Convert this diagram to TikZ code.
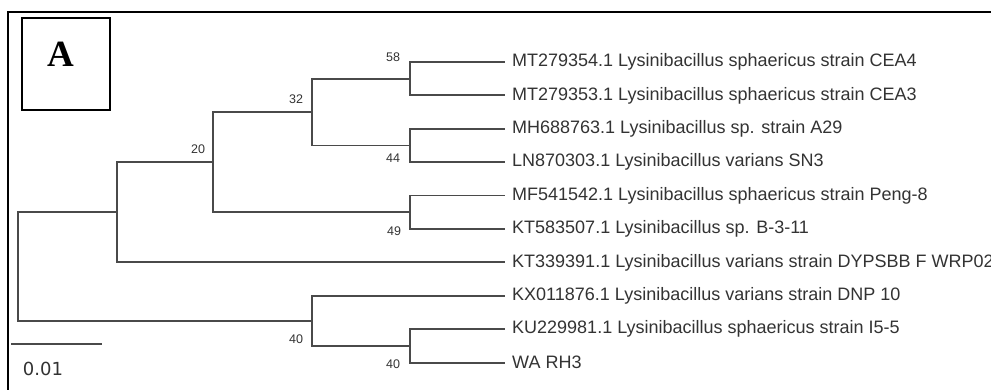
\documentclass[tikz,border=0pt]{standalone}
\usepackage{fontspec}
\setmainfont{Liberation Sans}
\newfontfamily\panelfont{Liberation Serif}
\newfontfamily\barfont{DejaVu Sans}
\usepackage{tikz}
\definecolor{treegray}{rgb}{0.29,0.29,0.29}
\definecolor{textgray}{rgb}{0.20,0.20,0.20}

\begin{document}
\begin{tikzpicture}[x=1pt, y=-1pt,
    branch/.style={draw=treegray, line width=1.8pt},
    leaf/.style={anchor=west, inner sep=0pt, xshift=7pt, text=textgray, font=\fontsize{18}{20}\selectfont},
    boot/.style={inner sep=0pt, text=textgray, font=\fontsize{12.5}{14}\selectfont}]
\useasboundingbox (0,0) rectangle (991,390);
\clip (0,0) rectangle (991,390);
\fill[white] (0,0) rectangle (991,390);
% frame and panel letter
\draw[line width=1.6pt] (8,400) -- (8,12) -- (1000,12);
\node[draw, line width=1.3pt, minimum width=88pt, minimum height=92pt, inner sep=0pt] (panel) at (66,64) {};
\node[font=\panelfont\bfseries\fontsize{37}{40}\selectfont] (letter) at (61,54) {A};
% leaf tips
\coordinate (t1) at (505,62);
\coordinate (t2) at (505,95.4);
\coordinate (t3) at (505,128.8);
\coordinate (t4) at (505,162.2);
\coordinate (t5) at (505,195.6);
\coordinate (t6) at (505,229);
\coordinate (t7) at (505,262.4);
\coordinate (t8) at (505,295.8);
\coordinate (t9) at (505,329.2);
\coordinate (t10) at (505,362.6);
% internal nodes
\coordinate (n58) at (410,78.7);
\coordinate (n44) at (410,145.5);
\coordinate (n49) at (410,212.3);
\coordinate (n40a) at (410,345.9);
\coordinate (n32) at (312,112.1);
\coordinate (n40b) at (312,320.9);
\coordinate (n20) at (213,162.2);
\coordinate (nA) at (117,212.3);
\coordinate (root) at (18,266.6);
% leaf labels
\node[leaf] (L1) at (t1) {MT279354.1 Lysinibacillus sphaericus strain CEA4};
\node[leaf] (L2) at (t2) {MT279353.1 Lysinibacillus sphaericus strain CEA3};
\node[leaf] (L3) at (t3) {MH688763.1 Lysinibacillus sp. strain A29};
\node[leaf] (L4) at (t4) {LN870303.1 Lysinibacillus varians SN3};
\node[leaf] (L5) at (t5) {MF541542.1 Lysinibacillus sphaericus strain Peng-8};
\node[leaf] (L6) at (t6) {KT583507.1 Lysinibacillus sp. B-3-11};
\node[leaf] (L7) at (t7) {KT339391.1 Lysinibacillus varians strain DYPSBB F WRP02};
\node[leaf] (L8) at (t8) {KX011876.1 Lysinibacillus varians strain DNP 10};
\node[leaf] (L9) at (t9) {KU229981.1 Lysinibacillus sphaericus strain I5-5};
\node[leaf] (L10) at (t10) {WA RH3};
% branches
\draw[branch] (n58) |- (t1);
\draw[branch] (n58) |- (t2);
\draw[branch] (n44) |- (t3);
\draw[branch] (n44) |- (t4);
\draw[branch] (n49) |- (t5);
\draw[branch] (n49) |- (t6);
\draw[branch] (n40a) |- (t9);
\draw[branch] (n40a) |- (t10);
\draw[branch] (n32) |- (n58);
\draw[branch] (n32) |- (n44);
\draw[branch] (n20) |- (n32);
\draw[branch] (n20) |- (n49);
\draw[branch] (nA) |- (n20);
\draw[branch] (nA) |- (t7);
\draw[branch] (n40b) |- (t8);
\draw[branch] (n40b) |- (n40a);
\draw[branch] (root) |- (nA);
\draw[branch] (root) |- (n40b);
% bootstrap values
\node[boot] (b58) at (393,57) {58};
\node[boot] (b44) at (393,158) {44};
\node[boot] (b32) at (296,99) {32};
\node[boot] (b20) at (198,149) {20};
\node[boot] (b49) at (394,231) {49};
\node[boot] (b40b) at (296,339) {40};
\node[boot] (b40a) at (393,364) {40};
% scale bar
\coordinate (s0) at (11,344);
\coordinate (s1) at (102,344);
\draw[branch] (s0) -- (s1);
\node[text=textgray, inner sep=0pt, font=\barfont\fontsize{18}{20}\selectfont] (bar) at (43,369) {0.01};
\end{tikzpicture}
\end{document}
